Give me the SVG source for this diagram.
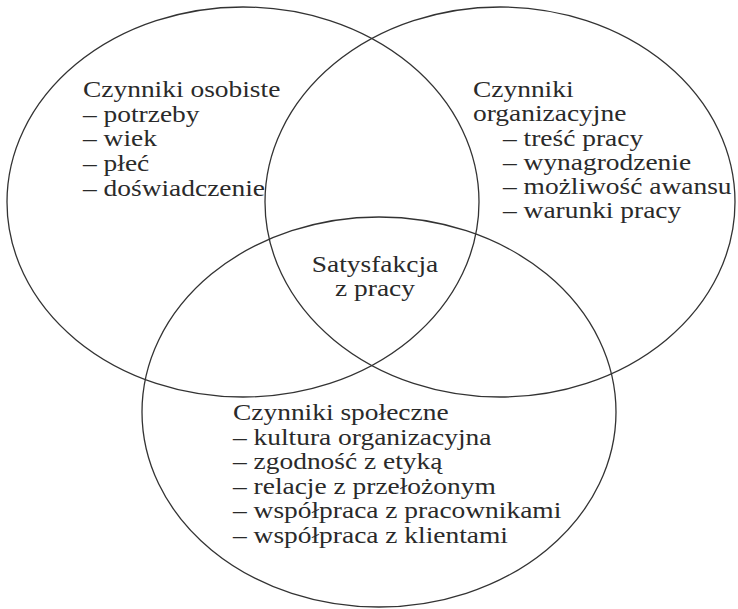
<svg xmlns="http://www.w3.org/2000/svg" width="738" height="609" viewBox="0 0 738 609">
<style>
.c{fill:none;stroke:#333;stroke-width:1.3}
text{font-family:"Liberation Serif","Times New Roman",serif;font-size:22.5px;fill:#2a2a2a}
</style>
<rect width="738" height="609" fill="#fff"/>
<g id="circles">
<ellipse id="c-left" class="c" cx="243" cy="202" rx="236" ry="195"/>
<ellipse id="c-right" class="c" cx="500" cy="202" rx="235" ry="195"/>
<ellipse id="c-bottom" class="c" cx="379" cy="412" rx="237" ry="195"/>
</g>
<g id="connectors"></g>
<g id="node-osobiste" transform="translate(83 0) scale(1.22 1)">
<text x="0" y="97">Czynniki osobiste</text>
<text x="0" y="121.7">– potrzeby</text>
<text x="0" y="146.4">– wiek</text>
<text x="0" y="171.1">– płeć</text>
<text x="0" y="195.8">– doświadczenie</text>
</g>
<g id="node-organizacyjne" transform="translate(473 0) scale(1.22 1)">
<text x="0" y="97">Czynniki</text>
<text x="0" y="121.3">organizacyjne</text>
<text x="24.6" y="145.6">– treść pracy</text>
<text x="24.6" y="169.9">– wynagrodzenie</text>
<text x="24.6" y="194.2">– możliwość awansu</text>
<text x="24.6" y="218.5">– warunki pracy</text>
</g>
<g id="node-satysfakcja" transform="translate(375 0) scale(1.22 1)">
<text x="0" y="272" text-anchor="middle">Satysfakcja</text>
<text x="0" y="296" text-anchor="middle">z pracy</text>
</g>
<g id="node-spoleczne" transform="translate(233 0) scale(1.22 1)">
<text x="0" y="420">Czynniki społeczne</text>
<text x="0" y="444.6">– kultura organizacyjna</text>
<text x="0" y="469.2">– zgodność z etyką</text>
<text x="0" y="493.8">– relacje z przełożonym</text>
<text x="0" y="518.4">– współpraca z pracownikami</text>
<text x="0" y="543">– współpraca z klientami</text>
</g>
</svg>
